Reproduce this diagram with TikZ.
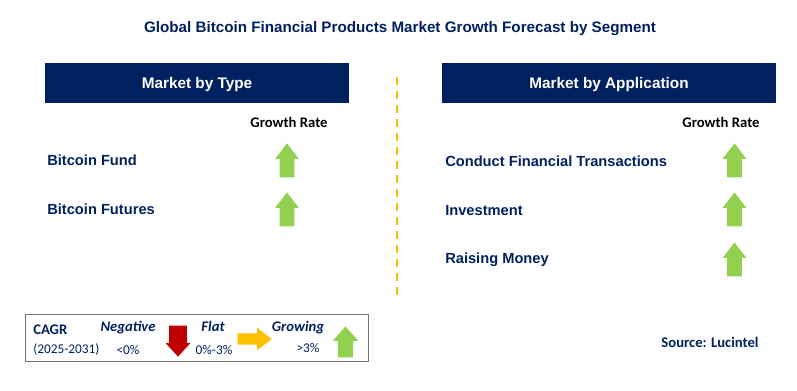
\documentclass[tikz,border=0pt]{standalone}
\usepackage{fontspec}
\setmainfont{Liberation Sans}
\newfontfamily\calibri{Carlito}
\usetikzlibrary{shapes.arrows}
\definecolor{navy}{HTML}{002060}
\definecolor{upgreen}{HTML}{92D050}
\definecolor{downred}{HTML}{C00000}
\definecolor{flatorange}{HTML}{FFC000}

\begin{document}
\begin{tikzpicture}[x=0.75pt,y=-0.75pt,
  hdr/.style={fill=navy,text=white,inner sep=0pt,minimum height=30pt,text height=8.2pt,text depth=0pt,font=\bfseries\fontsize{11.5}{13}\selectfont},
  item/.style={anchor=base west,inner sep=0pt,text=navy,font=\bfseries\fontsize{11}{13}\selectfont},
  rate/.style={anchor=base,inner sep=0pt,font=\calibri\bfseries\fontsize{11}{13}\selectfont},
  lgd/.style={anchor=base,inner sep=0pt,text=navy,font=\calibri\fontsize{10}{12}\selectfont},
  lgdhead/.style={anchor=base,inner sep=0pt,text=navy,font=\calibri\bfseries\itshape\fontsize{11}{13}\selectfont},
  arr/.style={single arrow,draw=none,inner xsep=0pt,anchor=tip},
  uparrow/.style={arr,fill=upgreen,rotate=90,inner ysep=5.25pt,minimum height=25.5pt,single arrow head extend=3.4pt,single arrow tip angle=75}
]
\useasboundingbox (0,0) rectangle (797,391);

\node[anchor=base,inner sep=0pt,text=navy,font=\bfseries\fontsize{11.4}{13}\selectfont] (title) at (400,33) {Global Bitcoin Financial Products Market Growth Forecast by Segment};

\node[hdr,minimum width=228pt] (typebox) at (197,83) {Market by Type};
\node[hdr,minimum width=250.5pt] (appbox) at (609,83) {Market by Application};

\coordinate (d1) at (397,77);
\coordinate (d2) at (397,295);
\draw[flatorange,line width=1.5pt,dash pattern=on 6pt off 4.5pt] (d1) -- (d2);

\node[rate] (rt) at (289,128) {Growth Rate};
\node[item] (t1) at (47,166) {Bitcoin Fund};
\node[item] (t2) at (47,215) {Bitcoin Futures};
\node[uparrow] (ta1) at (287,143) {};
\node[uparrow] (ta2) at (287,192) {};

\node[rate] (ra) at (721,128) {Growth Rate};
\node[item] (a1) at (445,167) {Conduct Financial Transactions};
\node[item] (a2) at (445,216) {Investment};
\node[item] (a3) at (445,264) {Raising Money};
\node[uparrow] (aa1) at (734.5,143) {};
\node[uparrow] (aa2) at (734.5,192) {};
\node[uparrow] (aa3) at (734.5,242) {};

\node[draw=black!55,line width=0.75pt,minimum width=257.25pt,minimum height=35.25pt,inner sep=0pt] (legend) at (196.5,338.5) {};
\node[lgd,anchor=base west,font=\calibri\bfseries\fontsize{11}{13}\selectfont] (cagr) at (33,335) {CAGR};
\node[lgd,anchor=base west] (years) at (33,353.5) {(2025-2031)};
\node[lgdhead] (neg) at (128,332) {Negative};
\node[lgd] (negv) at (128,354.5) {<0\%};
\node[arr,fill=downred,rotate=-90,inner ysep=6.4pt,minimum height=23.25pt,single arrow head extend=2.6pt,single arrow tip angle=85] (down) at (178,357) {};
\node[lgdhead] (flat) at (213,332) {Flat};
\node[lgd] (flatv) at (214,354.5) {0\%-3\%};
\node[arr,fill=flatorange,inner ysep=4.1pt,minimum height=25.5pt,single arrow head extend=4.1pt,single arrow tip angle=76] (flatarr) at (272,339) {};
\node[lgdhead] (grow) at (298,332) {Growing};
\node[lgd] (growv) at (308,352.5) {>3\%};
\node[arr,fill=upgreen,rotate=90,inner ysep=5.6pt,minimum height=23.25pt,single arrow head extend=3.75pt,single arrow tip angle=83] (uplg) at (345.5,326) {};

\node[anchor=base,inner sep=0pt,text=navy,font=\calibri\bfseries\fontsize{11}{13}\selectfont] (src) at (710,348) {Source: Lucintel};
\end{tikzpicture}
\end{document}
